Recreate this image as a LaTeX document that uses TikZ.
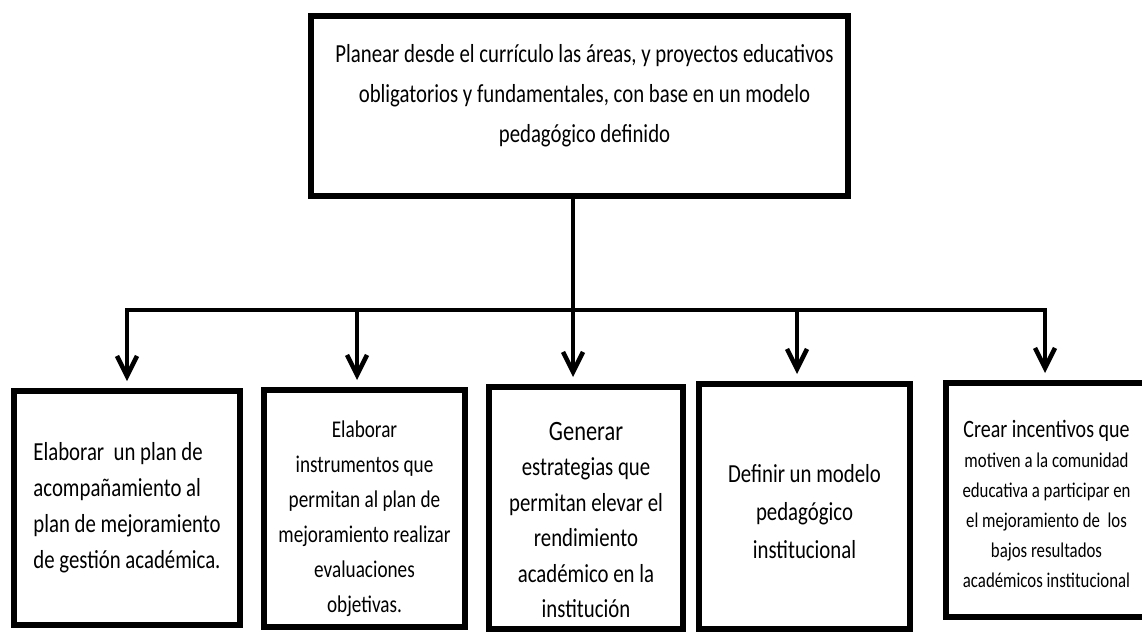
\documentclass[tikz,border=0pt]{standalone}
\usepackage{fontspec}
\setmainfont{Carlito}[FakeStretch=0.8]
\usetikzlibrary{arrows.meta}

\tikzset{
  caja/.style={draw, line width=6pt, inner sep=0pt},
  texto/.style={inner sep=0pt, align=center, font=\fontsize{26}{36}\selectfont},
  conn/.style={line width=4.5pt, line join=miter},
  flecha/.style={conn, -{Straight Barb[length=20pt,width=20pt,line join=miter]}, shorten >=7pt}
}

\begin{document}
\begin{tikzpicture}[x=1pt,y=-1pt]
  \useasboundingbox (0,0) rectangle (1142,633);
  % caja principal
  \node[caja, minimum width=537pt, minimum height=180pt] (plan) at (579.5,106) {};
  \node[texto, font=\fontsize{26}{40}\selectfont] (plan-t) at ([xshift=5pt,yshift=10pt]plan.center)
    {Planear desde el currículo las áreas, y proyectos educativos\\
     obligatorios y fundamentales, con base en un modelo\\
     pedagógico definido};
  % cajas de abajo
  \node[caja, minimum width=226pt, minimum height=234pt] (acomp) at (127,508) {};
  \node[texto, align=left] (acomp-t) at (acomp.center)
    {Elaborar\ \ un plan de\\ acompañamiento al\\ plan de mejoramiento\\ de gestión académica.};
  \node[caja, minimum width=201pt, minimum height=237pt] (instr) at (364.5,508.5) {};
  \node[texto, font=\fontsize{24}{35}\selectfont] (instr-t) at ([yshift=-10pt]instr.center)
    {Elaborar\\ instrumentos que\\ permitan al plan de\\ mejoramiento realizar\\ evaluaciones\\ objetivas.};
  \node[caja, minimum width=194pt, minimum height=242pt] (estrat) at (586,508) {};
  \node[texto, font=\fontsize{26}{35.5}\selectfont] (estrat-t) at ([yshift=-12pt]estrat.center)
    {{\fontsize{28}{35.5}\selectfont Generar}\\ estrategias que\\ permitan elevar el\\ rendimiento\\ académico en la\\ institución};
  \node[caja, minimum width=211pt, minimum height=245pt] (modelo) at (804.5,506.5) {};
  \node[texto, font=\fontsize{26}{38}\selectfont] (modelo-t) at ([yshift=-5pt]modelo.center)
    {Definir un modelo\\ pedagógico\\ institucional};
  \node[caja, minimum width=201pt, minimum height=234pt] (incent) at (1046.5,500) {};
  \node[texto, font=\fontsize{21}{30}\selectfont] (incent-t) at ([yshift=-4pt]incent.center)
    {{\fontsize{25}{30}\selectfont Crear incentivos que}\\ motiven a la comunidad\\ educativa a participar en\\ el mejoramiento de\ \ los\\ bajos resultados\\ académicos institucional};

  % conectores
  \coordinate (j1) at (127,310);
  \coordinate (j2) at (357,310);
  \coordinate (j3) at (573,310);
  \coordinate (j4) at (797,310);
  \coordinate (j5) at (1045,310);
  \draw[conn] (plan.south -| j3) -- (j3);
  \draw[conn, {Straight Barb[length=20pt,width=20pt]}-{Straight Barb[length=20pt,width=20pt]},
    shorten <=7pt, shorten >=7pt] (j1 |- acomp.north) -- (j1) -- (j5) -- (j5 |- incent.north);
  \draw[flecha] (j2) -- (j2 |- instr.north);
  \draw[flecha] (j3) -- (j3 |- estrat.north);
  \draw[flecha] (j4) -- (j4 |- modelo.north);
\end{tikzpicture}
\end{document}
